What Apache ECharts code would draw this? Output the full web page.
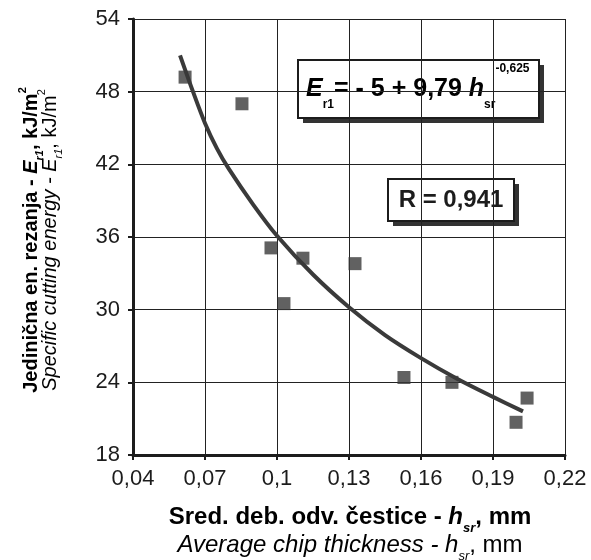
<!DOCTYPE html>
<html>
<head>
<meta charset="utf-8">
<script src="https://cdn.jsdelivr.net/npm/echarts@6/dist/echarts.min.js"></script>
<style>
  html, body { margin: 0; padding: 0; background: #fff; }
  #chart { width: 591px; height: 560px; }
</style>
</head>
<body>
<div id="chart"></div>
<script>
// measured points: average chip thickness (mm) vs specific cutting energy (kJ/m2)
var chipThickness = [0.0617, 0.0854, 0.0975, 0.1108, 0.1325, 0.1029, 0.1529, 0.1729, 0.2042, 0.1996];
var cuttingEnergy = [49.2, 47.0, 35.1, 34.25, 33.8, 30.5, 24.4, 24.0, 22.7, 20.7];

// fitted curve
var fitThickness = [0.0596, 0.065, 0.070, 0.075, 0.080, 0.090, 0.100, 0.115, 0.130, 0.145, 0.160, 0.175, 0.190, 0.2025];
var fitEnergy = [51.0, 48.0, 45.4, 43.3, 41.6, 38.7, 36.1, 32.9, 30.2, 27.9, 26.0, 24.3, 22.8, 21.6];

var xTicks = { min: 0.04, max: 0.22, step: 0.03 };
var yTicks = { min: 18, max: 54, step: 6 };

var FONT = "'Liberation Sans', Arial, sans-serif";
var INK = "#1c1c1c";

function comma(v) {
  var r = Math.round(v * 100) / 100;
  return String(r).replace(".", ",");
}

// rich text styles for the two-line axis titles
function titleRich(size, lh) {
  var sub = Math.round(size * 0.55);
  return {
    b: { fontFamily: FONT, fontWeight: "bold", fontSize: size, color: INK, lineHeight: lh },
    bi: { fontFamily: FONT, fontWeight: "bold", fontStyle: "italic", fontSize: size, color: INK, lineHeight: lh },
    bs: { fontFamily: FONT, fontWeight: "bold", fontStyle: "italic", fontSize: sub, color: INK, lineHeight: lh, verticalAlign: "bottom", padding: [0, 0, -4, 0] },
    bsup: { fontFamily: FONT, fontWeight: "bold", fontSize: sub, color: INK, lineHeight: lh, verticalAlign: "top", padding: [-5, 0, 0, 0] },
    i: { fontFamily: FONT, fontStyle: "italic", fontSize: size, color: INK, lineHeight: lh },
    is: { fontFamily: FONT, fontStyle: "italic", fontSize: sub, color: INK, lineHeight: lh, verticalAlign: "bottom", padding: [0, 0, -4, 0] },
    isup: { fontFamily: FONT, fontSize: sub, color: INK, lineHeight: lh, verticalAlign: "top", padding: [-5, 0, 0, 0] },
    n: { fontFamily: FONT, fontSize: size, color: INK, lineHeight: lh }
  };
}

var chartDom = document.getElementById("chart");
var myChart = echarts.init(chartDom, null, { renderer: "canvas" });

var scatterData = chipThickness.map(function (h, i) { return [h, cuttingEnergy[i]]; });
var fitData = fitThickness.map(function (h, i) { return [h, fitEnergy[i]]; });

var option = {
  backgroundColor: "#fff",
  animation: false,
  grid: { left: 133, right: 26, top: 19, bottom: 105 },
  xAxis: {
    type: "value",
    min: xTicks.min,
    max: xTicks.max,
    interval: xTicks.step,
    axisLine: { show: true, onZero: false, lineStyle: { color: INK, width: 3 } },
    axisTick: { show: true, length: 5, lineStyle: { color: INK, width: 2 } },
    axisLabel: { margin: 13, fontFamily: FONT, fontSize: 22, color: INK, formatter: comma },
    splitLine: { show: true, lineStyle: { color: "#222", width: 1 } }
  },
  yAxis: {
    type: "value",
    min: yTicks.min,
    max: yTicks.max,
    interval: yTicks.step,
    axisLine: { show: true, onZero: false, lineStyle: { color: INK, width: 3 } },
    axisTick: { show: true, length: 5, lineStyle: { color: INK, width: 2 } },
    axisLabel: { margin: 13, fontFamily: FONT, fontSize: 22, color: INK },
    splitLine: { show: true, lineStyle: { color: "#222", width: 1 } }
  },
  series: [
    {
      type: "line",
      data: fitData,
      smooth: 0.3,
      showSymbol: false,
      lineStyle: { color: "#3a3a3a", width: 4 },
      z: 3
    },
    {
      type: "scatter",
      data: scatterData,
      symbol: "rect",
      symbolSize: 13,
      itemStyle: { color: "#3a3a3a" },
      z: 4
    }
  ],
  graphic: [
    // x axis title
    {
      type: "text",
      x: 350,
      y: 531,
      style: {
        text: "{b|Sred. deb. odv. čestice - }{bi|h}{bs|sr}{b|, mm}\n{i|Average chip thickness - }{i|h}{is|sr}{n|, mm}",
        rich: titleRich(24, 28),
        align: "center",
        verticalAlign: "middle"
      }
    },
    // y axis title
    {
      type: "text",
      x: 41,
      y: 240,
      rotation: Math.PI / 2,
      style: {
        text: "{b|Jedinična en. rezanja - }{bi|E}{bs|r1}{b|, kJ/m}{bsup|2}\n{i|Specific cutting energy - }{i|E}{is|r1}{n|, kJ/m}{isup|2}",
        rich: titleRich(20, 19),
        align: "center",
        verticalAlign: "middle"
      }
    },
    // equation box
    {
      type: "group",
      left: 297,
      top: 59,
      children: [
        { type: "rect", shape: { x: 5, y: 5, width: 241, height: 58 }, style: { fill: "#333" } },
        { type: "rect", shape: { x: 0, y: 0, width: 241, height: 58 }, style: { fill: "#fff", stroke: INK, lineWidth: 2 } },
        {
          type: "text",
          x: 8,
          y: 29,
          style: {
            text: "{e|E}{s|r1}{t|= - 5 + 9,79 }{e|h}{s|sr}{p|-0,625}",
            verticalAlign: "middle",
            rich: {
              e: { fontFamily: FONT, fontWeight: "bold", fontStyle: "italic", fontSize: 25, color: INK, lineHeight: 40 },
              t: { fontFamily: FONT, fontWeight: "bold", fontSize: 25, color: INK, lineHeight: 40 },
              s: { fontFamily: FONT, fontWeight: "bold", fontSize: 12, color: INK, lineHeight: 40, verticalAlign: "bottom", padding: [0, 0, -2, 0] },
              p: { fontFamily: FONT, fontWeight: "bold", fontSize: 12, color: INK, lineHeight: 40, verticalAlign: "top", padding: [-6, 0, 0, 0] }
            }
          }
        }
      ]
    },
    // correlation box
    {
      type: "group",
      left: 387,
      top: 178,
      children: [
        { type: "rect", shape: { x: 5, y: 5, width: 126, height: 42 }, style: { fill: "#333" } },
        { type: "rect", shape: { x: 0, y: 0, width: 126, height: 42 }, style: { fill: "#fff", stroke: INK, lineWidth: 2 } },
        {
          type: "text",
          x: 63,
          y: 21,
          style: {
            text: "R = 0,941",
            fontFamily: FONT,
            fontWeight: "bold",
            fontSize: 24,
            fill: INK,
            align: "center",
            verticalAlign: "middle"
          }
        }
      ]
    }
  ]
};

option && myChart.setOption(option);
</script>
</body>
</html>
